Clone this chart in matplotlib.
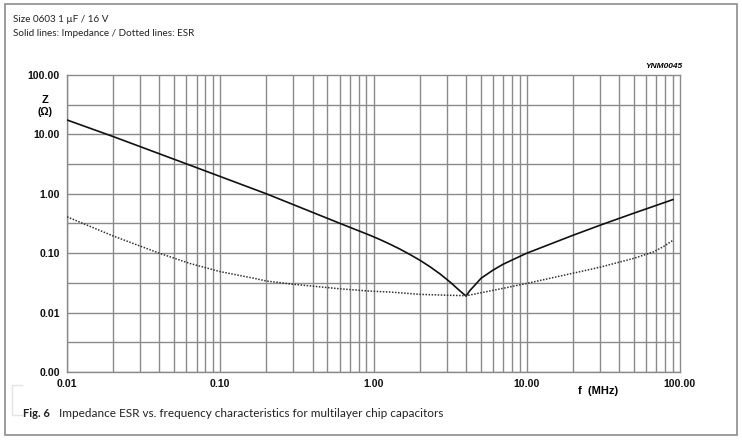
# Impedance / ESR vs frequency, multilayer chip capacitor 0603 1 uF / 16 V

import numpy as np
import matplotlib.pyplot as plt
from matplotlib.patches import Rectangle
from matplotlib.lines import Line2D
from matplotlib.ticker import FixedLocator, NullLocator, FuncFormatter

# Impedance (solid line)
z_freq = [0.01, 0.02, 0.06, 0.2, 0.6, 0.95, 1.10, 1.28, 1.49, 1.73, 2.01, 2.34, 2.72,
          3.16, 3.67, 4.02, 4.26, 4.60, 5.03, 6.03, 7.0, 8.9, 10, 14.2, 20, 30, 49.3, 90]
z_ohm = [17.5, 9.2, 3.2, 1.0, 0.32, 0.20, 0.170, 0.142, 0.117, 0.095, 0.076, 0.059, 0.0447,
         0.0327, 0.0231, 0.0190, 0.0236, 0.0292, 0.0378, 0.052, 0.065, 0.087, 0.100, 0.142,
         0.200, 0.295, 0.466, 0.80]

# ESR (dotted line)
esr_freq = [0.01, 0.02, 0.04, 0.0635, 0.1, 0.169, 0.2, 0.3, 0.6, 0.95, 1.28, 2.0, 3.0,
            4.06, 5.03, 7.0, 10, 20, 30, 50, 67, 77.5, 90]
esr_ohm = [0.41, 0.195, 0.10, 0.0671, 0.0489, 0.0375, 0.034, 0.030, 0.0252, 0.023, 0.0222,
           0.0203, 0.0196, 0.0193, 0.0216, 0.0256, 0.031, 0.046, 0.058, 0.082, 0.105,
           0.128, 0.165]

x_ticks = [0.01, 0.1, 1, 10, 100]
y_ticks = [0.001, 0.01, 0.1, 1, 10, 100]

W, H = 742, 440
fig = plt.figure(figsize=(W / 100, H / 100), dpi=100)
fig.patch.set_facecolor('white')

# outer frame
fig.patches.append(Rectangle((5 / W, 1 - 435 / H), 732 / W, 431 / H, transform=fig.transFigure,
                             fill=False, edgecolor='#8c8c8c', linewidth=1.2))
# faint bracket next to the caption
fig.lines.append(Line2D([22 / W, 12 / W, 12 / W, 22 / W],
                        [1 - 385 / H, 1 - 385 / H, 1 - 415 / H, 1 - 415 / H],
                        transform=fig.transFigure, color='#e4e4e4', lw=1))

left, right, top, bottom = 67, 680, 75, 372
ax = fig.add_axes([left / W, 1 - bottom / H, (right - left) / W, (bottom - top) / H])
ax.set_xscale('log')
ax.set_yscale('log')
ax.set_xlim(0.01, 100)
ax.set_ylim(0.001, 100)

grid_col = '#8a8a8a'
# vertical grid: decades and 2..9
for dec in [0.01, 0.1, 1, 10]:
    for m in range(1, 10):
        ax.axvline(dec * m, color=grid_col, lw=1.0, zorder=1)
# horizontal grid: decades and half decades
for dec in y_ticks[:-1]:
    ax.axhline(dec, color=grid_col, lw=1.0, zorder=1)
    ax.axhline(dec * np.sqrt(10), color=grid_col, lw=1.0, zorder=1)

ax.plot(z_freq, z_ohm, color='#111111', lw=1.2, zorder=3)
ax.plot(esr_freq, esr_ohm, color='#333333', lw=1.1, linestyle=(0, (1, 1)), zorder=3)

for s in ax.spines.values():
    s.set_color(grid_col)
    s.set_linewidth(1.0)

fmt = FuncFormatter(lambda v, p: '%.2f' % v)
ax.xaxis.set_major_locator(FixedLocator(x_ticks))
ax.yaxis.set_major_locator(FixedLocator(y_ticks))
ax.xaxis.set_minor_locator(NullLocator())
ax.yaxis.set_minor_locator(NullLocator())
ax.xaxis.set_major_formatter(fmt)
ax.yaxis.set_major_formatter(fmt)
ax.tick_params(length=0, labelsize=7.6, pad=5)
for lab in ax.get_xticklabels() + ax.get_yticklabels():
    lab.set_fontfamily('Liberation Sans')
    lab.set_fontweight('bold')
    lab.set_color('#111111')

fig.text(45 / W, 1 - 100 / H, 'Z', ha='center', va='center', fontsize=8,
         family='Liberation Sans', weight='bold')
fig.text(45 / W, 1 - 112 / H, '(Ω)', ha='center', va='center', fontsize=7.5,
         family='Liberation Sans', weight='bold')
fig.text(598 / W, 1 - 391 / H, 'f  (MHz)', ha='center', va='center', fontsize=8,
         family='Liberation Sans', weight='bold')
fig.text(682 / W, 1 - 66 / H, 'YNM0045', ha='right', va='center', fontsize=6,
         family='Liberation Sans', weight='bold', style='italic')

fig.text(13 / W, 1 - 20 / H, 'Size 0603 1 µF / 16 V', ha='left', va='center',
         fontsize=7.1, family='Lato', color='#222222')
fig.text(13 / W, 1 - 33 / H, 'Solid lines: Impedance / Dotted lines: ESR', ha='left', va='center',
         fontsize=7.1, family='Lato', color='#222222')
fig.text(23 / W, 1 - 413 / H, 'Fig. 6', ha='left', va='center',
         fontsize=8, family='Lato', weight='bold', color='#222222')
fig.text(59 / W, 1 - 413 / H, 'Impedance ESR vs. frequency characteristics for multilayer chip capacitors',
         ha='left', va='center', fontsize=8.5, family='Lato', color='#222222')

plt.savefig('out.png', dpi=100)
